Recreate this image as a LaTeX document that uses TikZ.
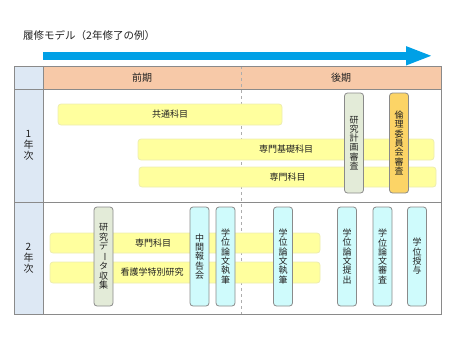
\documentclass[tikz,border=0pt]{standalone}
\usepackage{fontspec}
\usepackage{tikz}
\usepackage{xcolor}
\usetikzlibrary{arrows.meta}
\setmainfont{Noto Sans CJK JP}
\definecolor{Model_Blue}{HTML}{00A0E6}
\definecolor{Model_Peach}{HTML}{F7C9A8}
\definecolor{Model_Side}{HTML}{DDE8F4}
\definecolor{Model_Yellow}{HTML}{FFFF9E}
\definecolor{Model_YellowEdge}{HTML}{EDEDB0}
\definecolor{Model_Green}{HTML}{E3EBD8}
\definecolor{Model_Orange}{HTML}{FCD466}
\definecolor{Model_Cyan}{HTML}{CFFBFC}
\definecolor{Model_Edge}{HTML}{8A8A8A}
\definecolor{Model_Text}{HTML}{222222}
\tikzset{
  bar/.style={draw=Model_YellowEdge, fill=Model_Yellow, rounded corners=3pt, line width=0.8pt},
  barlabel/.style={text=Model_Text, font=\fontsize{9}{9.3}\selectfont},
  vbox/.style={draw=Model_Edge, rounded corners=3pt, line width=0.8pt, minimum width=19pt,
    minimum height=99pt, inner sep=0pt, align=center, text=Model_Text,
    font=\fontsize{9}{9.3}\selectfont},
  greenbox/.style={vbox, fill=Model_Green},
  orangebox/.style={vbox, fill=Model_Orange},
  cyanbox/.style={vbox, fill=Model_Cyan},
  grid/.style={draw=Model_Edge, line width=0.8pt}
}
\newcommand{\vbar}{\rotatebox[origin=c]{-90}{ー}}
\begin{document}
\begin{tikzpicture}[x=1pt, y=-1pt]
    \useasboundingbox (0,0) rectangle (450,338);

    % Title and time arrow
    \node[anchor=west, text=Model_Text, font=\fontsize{10.5}{12}\selectfont, inner sep=0pt] (title) at (23,36) {履修モデル（2年修了の例）};
    \draw[Model_Blue, line width=8.3pt, -{Triangle[length=27pt, width=17pt]}] (43,55.8) -- (433,55.8);

    % Table frame
    \fill[Model_Peach] (43,66) rectangle (441,89);
    \fill[Model_Side] (14,66) rectangle (43,314);
    \draw[Model_Edge!70, dashed, line width=0.7pt] (241,66) -- (241,314);
    \draw[grid] (14,66) rectangle (441,314);
    \draw[grid] (14,89) -- (441,89);
    \draw[grid] (14,202) -- (441,202);
    \draw[grid] (43,66) -- (43,314);

    % Headings
    \node[text=Model_Text, font=\fontsize{10}{12}\selectfont] (first) at (142,77.5) {前期};
    \node[text=Model_Text, font=\fontsize{10}{12}\selectfont] (second) at (341,77.5) {後期};
    \node[align=center, text=Model_Text, font=\fontsize{10}{11}\selectfont] (year1) at (28.5,145.5) {1\\年\\次};
    \node[align=center, text=Model_Text, font=\fontsize{10}{11}\selectfont] (year2) at (28.5,258) {2\\年\\次};

    % Year 1
    \draw[bar] (58,104) rectangle (282,125);
    \node[barlabel] (common) at (170,114.5) {共通科目};
    \draw[bar] (138,139) rectangle (434,160);
    \node[barlabel] (basic) at (286,149.5) {専門基礎科目};
    \draw[bar] (139,167) rectangle (436,187);
    \node[barlabel] (major1) at (287.5,177) {専門科目};
    \node[greenbox, minimum height=100pt] (plan) at (354,143) {研\\究\\計\\画\\審\\査};
    \node[orangebox, minimum height=100pt] (ethics) at (399,143) {倫\\理\\委\\員\\会\\審\\査};

    % Year 2
    \draw[bar] (50,233) rectangle (320,253);
    \node[barlabel] (major2) at (153,243) {専門科目};
    \draw[bar] (50,262) rectangle (320,283);
    \node[barlabel] (nursing) at (152,272.5) {看護学特別研究};
    \node[greenbox] (data) at (103.5,256.5) {研\\究\\デ\\\vbar\\タ\\収\\集};
    \node[cyanbox] (midterm) at (199.5,256.5) {中\\間\\報\\告\\会};
    \node[cyanbox] (writeA) at (225.5,256.5) {学\\位\\論\\文\\執\\筆};
    \node[cyanbox] (writeB) at (283,256.5) {学\\位\\論\\文\\執\\筆};
    \node[cyanbox] (submit) at (347,256.5) {学\\位\\論\\文\\提\\出};
    \node[cyanbox] (review) at (382.5,256.5) {学\\位\\論\\文\\審\\査};
    \node[cyanbox] (degree) at (417,256.5) {学\\位\\授\\与};
\end{tikzpicture}
\end{document}
